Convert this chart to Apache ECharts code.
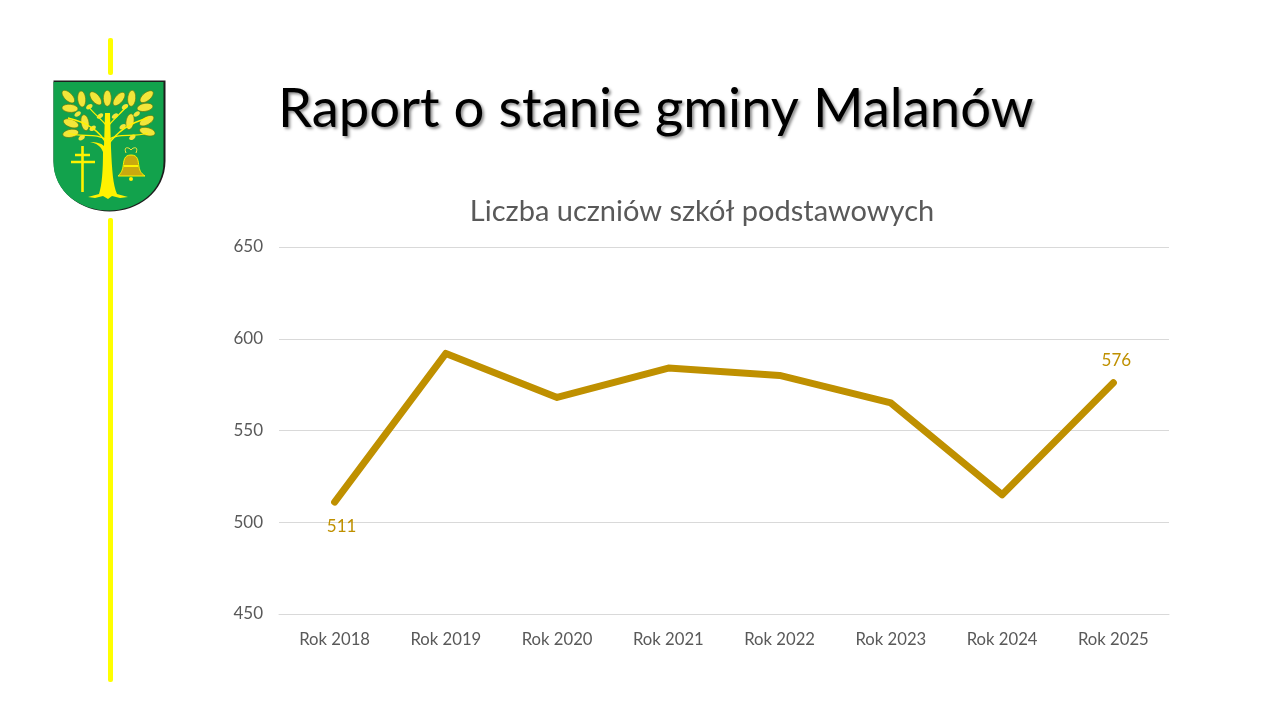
<!DOCTYPE html>
<html><head><meta charset="utf-8">
<style>html,body{margin:0;padding:0;background:#fff}#c{width:1280px;height:720px}</style>
<script src="https://cdn.jsdelivr.net/npm/echarts@6/dist/echarts.min.js"></script>
</head><body><div id="c"></div>
<script>
const categories = ['Rok 2018','Rok 2019','Rok 2020','Rok 2021','Rok 2022','Rok 2023','Rok 2024','Rok 2025'];
const students = [511,592,568,584,580,565,515,576];
const labelled = {0:{position:'bottom',offset:[7,10]},7:{position:'top',offset:[3,-8]}};
const mainTitle = 'Raport o stanie gminy Malanów';
const chartTitle = 'Liczba uczniów szkół podstawowych';
const FONT = 'Lato, "Open Sans", sans-serif';
const GOLD = '#BF9000', GREY = '#595959', Y = '#FFF200', LEAF = '#F2E63A';

let pathId = 0;
function pathEl(d, style, z, pos){
  const name = 'crest' + (pathId++);
  echarts.graphic.registerShape(name, echarts.graphic.extendPath(d, {}));
  return Object.assign({type:name, style, z}, pos || {});
}
const sx = v => 30 + v/3;
const g = [];
g.push({type:'rect',shape:{x:108,y:38,width:5,height:37,r:2},style:{fill:'#FFFF00'},z:1});
g.push({type:'rect',shape:{x:108,y:218,width:5,height:464,r:2},style:{fill:'#FFFF00'},z:1});
const shield = 'M0 0H112V80C112 112 84 131 56 131C28 131 0 112 0 80Z';
g.push(pathEl(shield,{fill:'#1d1d1d'},2,{x:53.5,y:80.5}));
g.push(pathEl('M0 0H110V80C110 110 83 128.5 55 128.5C27 128.5 0 110 0 80Z',{fill:'#12A24C'},3,{x:53.5,y:82}));
const leaves=[[115,200,-45],[155,207,-85],[197,205,-50],[232,205,90],[267,207,50],[305,205,85],[350,200,40],[120,235,-5],[345,232,10],[123,280,-20],[165,278,-80],[300,275,80],[350,272,30],[122,310,10],[352,305,-15]];
leaves.forEach(l=>g.push({type:'ellipse',x:sx(l[0]),y:sx(l[1]),rotation:l[2]*Math.PI/180,shape:{cx:0,cy:0,rx:8,ry:4},style:{fill:LEAF,stroke:'#5f7a10',lineWidth:.7},z:5}));
const acorns=[[178,230],[143,252],[210,258],[255,258],[285,230],[320,252],[188,295],[278,290],[155,323],[307,322]];
acorns.forEach(a=>g.push({type:'ellipse',x:sx(a[0]),y:sx(a[1]),rotation:.6,shape:{cx:0,cy:0,rx:3.6,ry:2.2},style:{fill:LEAF},z:5}));
g.push(pathEl('M105 113H110L111 148C112 170 113 185 117 194L128 197 120 198 112 196 108 199 103 196 95 198 88 197 99 194C102 185 103 170 103 152C101 146 96 143 90 142C96 142 101 143 104 146Z',{fill:Y},6));
['M107 145C100 130 85 122 68 118','M107 140C96 132 82 138 68 133','M108 145C118 130 133 122 148 118','M108 140C118 132 132 138 148 133','M106 125C100 118 92 112 88 106','M109 125C115 118 122 112 127 106'].forEach(p=>{
  g.push(pathEl(p,{fill:'none',stroke:Y,lineWidth:1.3},5));
});
g.push(pathEl('M82.5 146V192M75 155H90M71 162H95',{fill:'none',stroke:Y,lineWidth:2.6},6));
g.push(pathEl('M131 155C124 155 124 160 123 167C122 172 120 174 118 176H145C142 174 140 172 139 167C138 160 138 155 131 155Z',{fill:'#C9A90F',stroke:Y,lineWidth:1},6));
g.push({type:'circle',shape:{cx:131,cy:179,r:2},style:{fill:Y},z:6});
g.push(pathEl('M126 153C123 146 129 147 131 150C133 147 139 146 136 153',{fill:'none',stroke:LEAF,lineWidth:1},6));
g.push({type:'rect',shape:{x:124,y:165,width:14,height:2},style:{fill:Y},z:7});

const chart = echarts.init(document.getElementById('c'),null,{renderer:'canvas'});
chart.setOption({
  animation:false,
  backgroundColor:'#fff',
  title:[
    {text:mainTitle,left:278,top:82,padding:0,textStyle:{fontFamily:FONT,fontSize:54.5,fontWeight:'normal',color:'#000',textShadowColor:'rgba(0,0,0,.45)',textShadowBlur:3,textShadowOffsetX:2,textShadowOffsetY:2}},
    {text:chartTitle,left:702,top:197,textAlign:'center',padding:0,textStyle:{fontFamily:FONT,fontSize:29,fontWeight:'normal',color:GREY}}
  ],
  grid:{left:279,right:111,top:247,bottom:106,containLabel:false},
  xAxis:{type:'category',data:categories,boundaryGap:true,
    axisLine:{lineStyle:{color:'#D9D9D9',width:1}},axisTick:{show:false},
    axisLabel:{color:GREY,fontFamily:FONT,fontSize:16.7,margin:17}},
  yAxis:{type:'value',min:450,max:650,interval:50,
    axisLine:{show:false},axisTick:{show:false},
    splitLine:{lineStyle:{color:'#D9D9D9',width:1}},
    axisLabel:{color:GREY,fontFamily:FONT,fontSize:17,margin:16}},
  series:[{type:'line',smooth:false,showSymbol:true,showAllSymbol:true,symbol:'circle',symbolSize:1,
    lineStyle:{color:GOLD,width:7,cap:'round',join:'round'},itemStyle:{color:GOLD},
    data:students.map((v,i)=>labelled[i]?{value:v,label:{show:true,position:labelled[i].position,offset:labelled[i].offset,color:GOLD,fontFamily:FONT,fontSize:17}}:{value:v})
  }],
  graphic:{elements:g}
});
</script></body></html>
